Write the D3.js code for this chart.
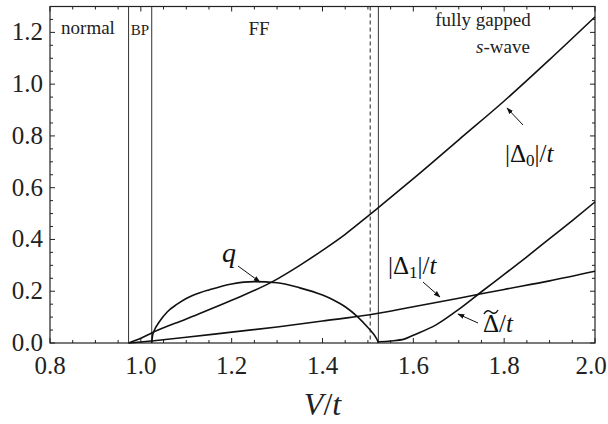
<!DOCTYPE html>
<html>
<head>
<meta charset="utf-8">
<script src="https://cdn.jsdelivr.net/npm/d3@7"></script>
<style>
  body { margin: 0; background: #fff; }
  svg { display: block; }
</style>
</head>
<body>
<svg id="chart" width="608" height="424"></svg>
<script>
// phase boundaries (V/t)
const boundaries = [0.973, 1.024, 1.523];
const dashedBoundary = 1.505;

// |Delta_0|/t
const delta0V = [0.973, 1.0, 1.024, 1.1, 1.2, 1.29, 1.35, 1.4, 1.45, 1.5, 1.523, 1.6, 1.7, 1.8, 1.9, 2.0];
const delta0 = [0, 0.018, 0.039, 0.093, 0.165, 0.237, 0.3, 0.358, 0.42, 0.49, 0.523, 0.635, 0.785, 0.935, 1.095, 1.26];

// q
const qV = [1.024, 1.026, 1.03, 1.04, 1.058, 1.08, 1.1, 1.13, 1.15, 1.2, 1.25, 1.3, 1.35, 1.4, 1.423, 1.45, 1.478, 1.5, 1.51, 1.518, 1.521, 1.523];
const q = [0, 0.03, 0.05, 0.08, 0.12, 0.15, 0.172, 0.194, 0.205, 0.228, 0.237, 0.233, 0.213, 0.185, 0.167, 0.14, 0.1, 0.06, 0.04, 0.02, 0.01, 0];

// |Delta_1|/t
const delta1V = [0.973, 1.0, 1.024, 1.1, 1.2, 1.3, 1.4, 1.5, 1.6, 1.7, 1.8, 1.9, 2.0];
const delta1 = [0, 0.004, 0.008, 0.022, 0.042, 0.062, 0.085, 0.108, 0.14, 0.173, 0.207, 0.24, 0.277];

// tilde Delta / t
const deltaTV = [1.523, 1.55, 1.58, 1.6, 1.65, 1.7, 1.75, 1.8, 1.85, 1.9, 1.95, 2.0];
const deltaT = [0.005, 0.008, 0.015, 0.03, 0.07, 0.13, 0.198, 0.265, 0.333, 0.403, 0.473, 0.545];

const xTicks = [0.8, 1.0, 1.2, 1.4, 1.6, 1.8, 2.0];
const yTicks = [0.0, 0.2, 0.4, 0.6, 0.8, 1.0, 1.2];

const serif = "Liberation Serif";
const m = { left: 50, right: 595, top: 6.5, bottom: 343 };

const svg = d3.select("#chart").attr("font-family", serif);

const x = d3.scaleLinear().domain([0.8, 2.0]).range([m.left, m.right]);
const y = d3.scaleLinear().domain([0, 1.3]).range([m.bottom, m.top]);

const minorX = d3.range(0.8, 2.0001, 0.05);
const minorY = d3.range(0, 1.3001, 0.05);

// axes: ticks pointing inwards on all four sides
const tickG = svg.append("g").attr("stroke", "#222").attr("stroke-width", 1);
minorX.forEach((v) => {
  const major = xTicks.some((t) => Math.abs(t - v) < 1e-6);
  const len = major ? 5 : 3;
  tickG.append("line").attr("x1", x(v)).attr("x2", x(v)).attr("y1", m.bottom).attr("y2", m.bottom - len);
  tickG.append("line").attr("x1", x(v)).attr("x2", x(v)).attr("y1", m.top).attr("y2", m.top + len);
});
minorY.forEach((v) => {
  const major = yTicks.some((t) => Math.abs(t - v) < 1e-6);
  const len = major ? 5 : 3;
  tickG.append("line").attr("y1", y(v)).attr("y2", y(v)).attr("x1", m.left).attr("x2", m.left + len);
  tickG.append("line").attr("y1", y(v)).attr("y2", y(v)).attr("x1", m.right).attr("x2", m.right - len);
});

svg.append("rect")
  .attr("x", m.left).attr("y", m.top)
  .attr("width", m.right - m.left).attr("height", m.bottom - m.top)
  .attr("fill", "none").attr("stroke", "#222").attr("stroke-width", 1.2);

svg.append("g").attr("font-family", serif).selectAll("text").data(xTicks).join("text")
  .attr("x", (d) => Math.min(x(d), 591)).attr("y", m.bottom + 31)
  .attr("text-anchor", "middle").attr("font-size", 25).attr("fill", "#222")
  .text((d) => d.toFixed(1));

svg.append("g").attr("font-family", serif).selectAll("text").data(yTicks).join("text")
  .attr("x", m.left - 7).attr("y", (d) => y(d) + 8)
  .attr("text-anchor", "end").attr("font-size", 25).attr("fill", "#222")
  .text((d) => d.toFixed(1));

// axis title V/t
const xt = svg.append("text").attr("font-family", serif)
  .attr("x", (m.left + m.right) / 2).attr("y", 415)
  .attr("text-anchor", "middle").attr("font-size", 32).attr("fill", "#222");
xt.append("tspan").attr("font-style", "italic").text("V");
xt.append("tspan").text("/");
xt.append("tspan").attr("font-style", "italic").text("t");

// phase boundaries
svg.append("g").selectAll("line").data(boundaries).join("line")
  .attr("x1", (d) => x(d)).attr("x2", (d) => x(d))
  .attr("y1", m.top).attr("y2", m.bottom)
  .attr("stroke", "#333").attr("stroke-width", 1);

svg.append("line")
  .attr("x1", x(dashedBoundary)).attr("x2", x(dashedBoundary))
  .attr("y1", m.top).attr("y2", m.bottom)
  .attr("stroke", "#222").attr("stroke-width", 1)
  .attr("stroke-dasharray", "4,3");

// curves
const line = d3.line().x((d) => x(d[0])).y((d) => y(d[1])).curve(d3.curveMonotoneX);
const curves = [
  d3.zip(delta0V, delta0),
  d3.zip(qV, q),
  d3.zip(delta1V, delta1),
  d3.zip(deltaTV, deltaT),
];
svg.append("g").selectAll("path").data(curves).join("path")
  .attr("d", line)
  .attr("fill", "none").attr("stroke", "#111").attr("stroke-width", 1.6);

// region labels
const labels = svg.append("g").attr("font-family", serif).attr("fill", "#222").attr("text-anchor", "middle");
labels.append("text").attr("x", 88).attr("y", 34).attr("font-size", 19).text("normal");
labels.append("text").attr("x", 140).attr("y", 35).attr("font-size", 15).text("BP");
labels.append("text").attr("x", 259).attr("y", 35).attr("font-size", 19).text("FF");
labels.append("text").attr("x", 483).attr("y", 26).attr("font-size", 19).text("fully gapped");
const sw = labels.append("text").attr("x", 503).attr("y", 53).attr("font-size", 19);
sw.append("tspan").attr("font-style", "italic").text("s");
sw.append("tspan").text("-wave");

// annotation arrows
svg.append("defs").append("marker")
  .attr("id", "head").attr("viewBox", "0 0 10 10")
  .attr("refX", 9).attr("refY", 5)
  .attr("markerWidth", 7).attr("markerHeight", 7)
  .attr("orient", "auto")
  .append("path").attr("d", "M0,1.5 L10,5 L0,8.5 Z").attr("fill", "#111");

const arrows = [
  [[523, 125], [507, 108]],
  [[423, 282], [440, 297]],
  [[478, 323], [458, 314]],
  [[238, 266], [260, 282]],
];
svg.append("g").selectAll("line").data(arrows).join("line")
  .attr("x1", (d) => d[0][0]).attr("y1", (d) => d[0][1])
  .attr("x2", (d) => d[1][0]).attr("y2", (d) => d[1][1])
  .attr("stroke", "#111").attr("stroke-width", 1)
  .attr("marker-end", "url(#head)");

const math = svg.append("g").attr("font-family", serif).attr("fill", "#111").attr("font-size", 25);

const a0 = math.append("text").attr("x", 505).attr("y", 162);
a0.append("tspan").text("|Δ");
a0.append("tspan").attr("font-size", 17).attr("dy", 4).text("0");
a0.append("tspan").attr("dy", -4).text("|/");
a0.append("tspan").attr("font-style", "italic").text("t");

const a1 = math.append("text").attr("x", 388).attr("y", 274);
a1.append("tspan").text("|Δ");
a1.append("tspan").attr("font-size", 17).attr("dy", 4).text("1");
a1.append("tspan").attr("dy", -4).text("|/");
a1.append("tspan").attr("font-style", "italic").text("t");

const at = math.append("text").attr("x", 483).attr("y", 332);
at.append("tspan").text("Δ/");
at.append("tspan").attr("font-style", "italic").text("t");
// tilde accent over the Delta
svg.append("path")
  .attr("d", "M484,314 C486,310 489,310 491,312 C493,314 496,314 498,310")
  .attr("fill", "none").attr("stroke", "#111").attr("stroke-width", 1.4);

math.append("text").attr("x", 222).attr("y", 262).attr("font-size", 28)
  .attr("font-style", "italic").text("q");
</script>
</body>
</html>
